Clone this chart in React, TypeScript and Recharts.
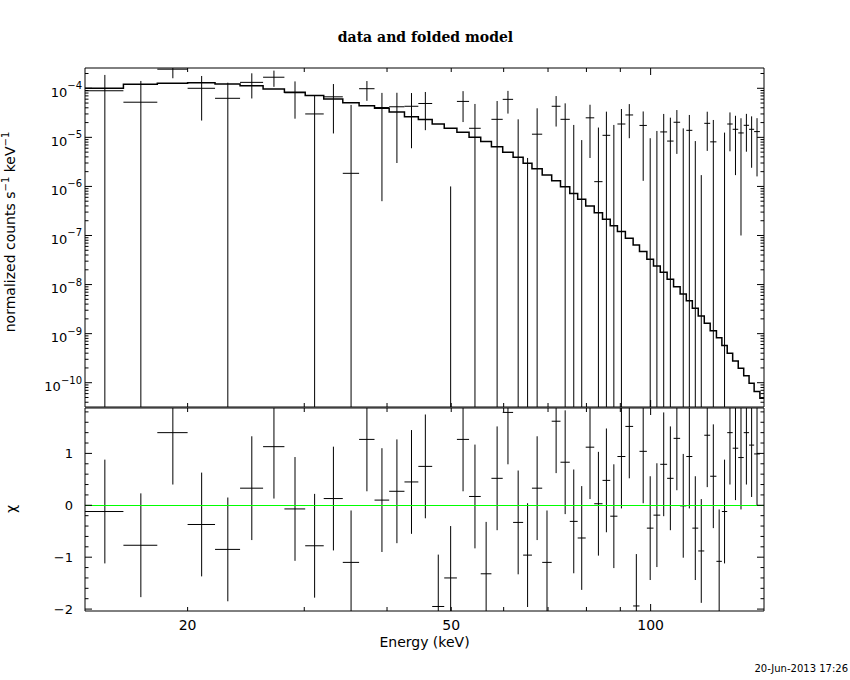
import React from "react";
import { ComposedChart, Line, Scatter, ErrorBar, XAxis, YAxis, ReferenceLine } from "recharts";

// channel edges in keV; the last value closes the final model bin
const binEdges = [
  14.0, 16.0, 18.0, 20.0, 22.0, 24.0, 26.0, 28.0, 30.1, 32.1, 34.3, 36.3, 38.3, 40.3, 42.5, 44.6,
  46.8, 48.8, 51.0, 53.2, 55.4, 57.5, 59.8, 62.0, 64.2, 66.2, 68.6, 70.9, 73.1, 75.5, 77.6, 79.8,
  82.2, 84.6, 86.9, 89.1, 91.6, 94.1, 96.2, 98.7, 101.0, 103.4, 105.9, 108.3, 110.8, 113.2, 115.6,
  118.0, 120.5, 123.0, 125.7, 128.1, 130.5, 133.0, 135.6, 138.2, 140.8, 143.3, 146.2, 148.3,
];

// folded model, counts s^-1 keV^-1
const modelRate = [
  1.0e-4, 1.21e-4, 1.26e-4, 1.3e-4, 1.22e-4, 1.12e-4, 9.7e-5, 8.3e-5, 7.1e-5, 6.05e-5, 5.1e-5,
  4.4e-5, 3.9e-5, 3.3e-5, 2.64e-5, 2.3e-5, 1.87e-5, 1.53e-5, 1.27e-5, 1.0e-5, 8.2e-6, 6.46e-6,
  4.96e-6, 3.93e-6, 2.96e-6, 2.3e-6, 1.71e-6, 1.31e-6, 9.9e-7, 7.2e-7, 5.47e-7, 4.0e-7, 2.92e-7,
  2.14e-7, 1.58e-7, 1.2e-7, 8.8e-8, 6.4e-8, 4.7e-8, 3.3e-8, 2.39e-8, 1.78e-8, 1.28e-8, 9.05e-9,
  6.43e-9, 4.69e-9, 3.29e-9, 2.29e-9, 1.63e-9, 1.15e-9, 8.2e-10, 5.7e-10, 4.0e-10, 2.77e-10,
  1.97e-10, 1.39e-10, 9.7e-11, 6.6e-11, 4.8e-11,
];

// measured rate and 1-sigma error per channel (negative rates have no cross drawn)
const dataRate = [
  8.9e-5, 5.2e-5, 2.45e-4, 1.0e-4, 6.25e-5, 1.32e-4, 1.68e-4, 8.1e-5, 3.0e-5, 6.7e-5, 1.85e-6,
  9.8e-5, 4.05e-5, 4.2e-5, 4.3e-5, 4.9e-5, -4.8e-5, -3.4e-5, 5.4e-5, 1.53e-5, -3.4e-5, 2.33e-5,
  5.95e-5, -5.6e-6, -2.42e-5, 1.16e-5, -2.8e-5, 4.3e-5, 2.33e-5, -7.0e-6, -1.35e-5, 2.5e-5,
  1.25e-6, 1.1e-5, -4.6e-6, 1.87e-5, 2.86e-5, -3.9e-5, 1.75e-5, -7.5e-6, -3.2e-6, 1.29e-5,
  8.4e-6, 2.03e-5, -1.5e-7, 1.39e-5, -6.6e-6, -1.23e-5, 1.93e-5, 8.1e-6, -1.51e-5, -1.7e-6,
  1.87e-5, 1.46e-5, 1.23e-5, 1.76e-5, 1.46e-5, 1.31e-5,
];
const dataErr = [
  9.8e-5, 8.9e-5, 8.5e-5, 7.8e-5, 6.75e-5, 7.0e-5, 6.1e-5, 5.7e-5, 4.2e-5, 5.5e-5, 4.4e-5,
  4.25e-5, 4.0e-5, 3.9e-5, 3.7e-5, 3.5e-5, 3.4e-5, 3.5e-5, 3.35e-5, 3.26e-5, 3.2e-5, 3.17e-5,
  2.9e-5, 2.89e-5, 2.8e-5, 2.75e-5, 2.7e-5, 2.64e-5, 2.6e-5, 2.49e-5, 2.23e-5, 2.12e-5, 1.46e-5,
  2.24e-5, 2.25e-5, 1.91e-5, 1.9e-5, 2.0e-5, 1.62e-5, 1.71e-5, 1.67e-5, 1.71e-5, 1.68e-5,
  1.57e-5, 1.54e-5, 1.47e-5, 1.5e-5, 1.4e-5, 1.4e-5, 1.45e-5, 1.4e-5, 1.42e-5, 1.35e-5, 1.29e-5,
  1.22e-5, 1.25e-5, 1.22e-5, 1.15e-5,
];

// residuals (data - model) / error
const chiValues = [
  -0.12, -0.77, 1.4, -0.37, -0.85, 0.33, 1.13, -0.07, -0.78, 0.13, -1.1, 1.27, 0.1, 0.27, 0.45,
  0.75, -1.95, -1.4, 1.27, 0.17, -1.32, 0.52, 1.79, -0.33, -0.96, 0.33, -1.1, 1.62, 0.83, -0.31,
  -0.63, 1.12, 0.03, 0.48, -0.21, 0.94, 1.52, -1.94, 1.04, -0.44, -0.19, 0.79, 0.52, 1.29, -0.01,
  0.94, -0.44, -0.88, 1.35, 0.56, -1.08, -0.12, 1.4, 1.1, 0.92, 1.4, 1.16, 0.99,
];

const energyTicks = [20, 30, 40, 50, 60, 70, 80, 90, 100];
const energyLabels = ["20", "50", "100"];

const E_MIN = 14;
const E_MAX = 148.3;
const RATE_MIN = 3.2e-11;
const RATE_MAX = 2.59e-4;
const CHI_MIN = -2.037;
const CHI_MAX = 1.875;

const SANS = "'DejaVu Sans', sans-serif";
const AXIS_LINE = { stroke: "#000", strokeWidth: 1 };

const rateTicks: number[] = [];
for (let p = -11; p <= -4; p++) {
  for (let m = 1; m <= 9; m++) {
    const t = m * Math.pow(10, p);
    if (t >= RATE_MIN && t <= RATE_MAX) rateTicks.push(t);
  }
}
const chiTicks: number[] = [];
for (let k = -10; k <= 9; k++) chiTicks.push(Math.round(k * 2) / 10);

const modelLine = modelRate
  .map((v, i) => ({ e: binEdges[i], v }))
  .concat([{ e: binEdges[modelRate.length], v: modelRate[modelRate.length - 1] }]);

const ratePoints = dataRate.flatMap((rate, i) => {
  const lo = binEdges[i];
  const hi = binEdges[i + 1];
  const e = (lo + hi) / 2;
  const upper = Math.min(rate + dataErr[i], RATE_MAX);
  if (upper <= RATE_MIN) return [];
  const shown = rate > RATE_MIN;
  const v = shown ? rate : RATE_MIN;
  const lower = Math.max(rate - dataErr[i], RATE_MIN);
  return [{ e, v, xErr: shown ? [e - lo, hi - e] : [0, 0], yErr: [v - lower, upper - v] }];
});

const chiPoints = chiValues.map((chi, i) => {
  const lo = binEdges[i];
  const hi = binEdges[i + 1];
  const e = (lo + hi) / 2;
  return {
    e,
    v: chi,
    xErr: [e - lo, hi - e],
    yErr: [chi - Math.max(chi - 1, CHI_MIN), Math.min(chi + 1, CHI_MAX) - chi],
  };
});

type Side = "top" | "bottom" | "left" | "right";

function tickRenderer(
  side: Side,
  isMajor: (v: number) => boolean,
  majorLen: number,
  minorLen: number,
  label?: (v: number, x: number, y: number) => React.ReactNode
) {
  return (props: any) => {
    const { x, y, payload } = props;
    const v = payload.value as number;
    const len = isMajor(v) ? majorLen : minorLen;
    const dx = side === "left" ? len : side === "right" ? -len : 0;
    const dy = side === "bottom" ? -len : side === "top" ? len : 0;
    return (
      <g>
        <line x1={x} y1={y} x2={x + dx} y2={y + dy} stroke="#000" strokeWidth={1} />
        {label ? label(v, x, y) : null}
      </g>
    );
  };
}

const isDecade = (v: number) => Math.abs(Math.log10(v) - Math.round(Math.log10(v))) < 1e-6;
const isHundred = (v: number) => v === 100;
const isInteger = (v: number) => Math.abs(v - Math.round(v)) < 1e-6;

const rateLabel = (v: number, x: number, y: number) =>
  isDecade(v) ? (
    <text x={x - 3} y={y + 8.5} textAnchor="end" fontFamily={SANS} fontSize={13} fill="#000">
      10
      <tspan dy={-7.5} fontSize={10}>
        {"\u2212" + Math.abs(Math.round(Math.log10(v)))}
      </tspan>
    </text>
  ) : null;

const chiLabel = (v: number, x: number, y: number) =>
  isInteger(v) ? (
    <text x={x - 12} y={y + 5} textAnchor="end" fontFamily={SANS} fontSize={13} fill="#000">
      {v < 0 ? "\u2212" + Math.abs(Math.round(v)) : String(Math.round(v))}
    </text>
  ) : null;

const energyLabel = (v: number, x: number, y: number) =>
  energyLabels.includes(String(v)) ? (
    <text x={x} y={y + 19} textAnchor="middle" fontFamily={SANS} fontSize={14} fill="#000">
      {String(v)}
    </text>
  ) : null;

const noMarker = () => <g />;

function SpectrumPanel() {
  return (
    <ComposedChart width={850} height={440} margin={{ top: 38, right: 26, bottom: 3, left: 25 }}>
      <XAxis
        dataKey="e"
        type="number"
        scale="log"
        domain={[E_MIN, E_MAX]}
        allowDataOverflow
        ticks={energyTicks}
        interval={0}
        height={30}
        tickSize={0}
        tickMargin={0}
        tickLine={false}
        axisLine={AXIS_LINE}
        tick={tickRenderer("bottom", isHundred, 7, 4)}
      />
      <XAxis
        xAxisId="t"
        orientation="top"
        dataKey="e"
        type="number"
        scale="log"
        domain={[E_MIN, E_MAX]}
        allowDataOverflow
        ticks={energyTicks}
        interval={0}
        height={30}
        tickSize={0}
        tickMargin={0}
        tickLine={false}
        axisLine={AXIS_LINE}
        tick={tickRenderer("top", isHundred, 7, 4)}
      />
      <YAxis
        dataKey="v"
        type="number"
        scale="log"
        domain={[RATE_MIN, RATE_MAX]}
        allowDataOverflow
        ticks={rateTicks}
        interval={0}
        width={60}
        tickSize={0}
        tickMargin={0}
        tickLine={false}
        axisLine={AXIS_LINE}
        tick={tickRenderer("left", isDecade, 7, 3.5, rateLabel)}
      />
      <YAxis
        yAxisId="r"
        orientation="right"
        type="number"
        scale="log"
        domain={[RATE_MIN, RATE_MAX]}
        allowDataOverflow
        ticks={rateTicks}
        interval={0}
        width={60}
        tickSize={0}
        tickMargin={0}
        tickLine={false}
        axisLine={AXIS_LINE}
        tick={tickRenderer("right", isDecade, 7, 3.5)}
      />
      <Line
        data={modelLine}
        dataKey="v"
        type="stepAfter"
        stroke="#000"
        strokeWidth={1.5}
        dot={false}
        activeDot={false}
        isAnimationActive={false}
      />
      <Scatter data={ratePoints} dataKey="v" shape={noMarker} isAnimationActive={false}>
        <ErrorBar dataKey="yErr" direction="y" width={0} stroke="#000" strokeWidth={1} />
        <ErrorBar dataKey="xErr" direction="x" width={0} stroke="#000" strokeWidth={1} />
      </Scatter>
    </ComposedChart>
  );
}

function ResidualPanel() {
  return (
    <ComposedChart width={850} height={680} margin={{ top: 378, right: 26, bottom: 39, left: 25 }}>
      <XAxis
        dataKey="e"
        type="number"
        scale="log"
        domain={[E_MIN, E_MAX]}
        allowDataOverflow
        ticks={energyTicks}
        interval={0}
        height={30}
        tickSize={0}
        tickMargin={0}
        tickLine={false}
        axisLine={AXIS_LINE}
        tick={tickRenderer("bottom", isHundred, 7, 4, energyLabel)}
      />
      <XAxis
        xAxisId="t"
        orientation="top"
        dataKey="e"
        type="number"
        scale="log"
        domain={[E_MIN, E_MAX]}
        allowDataOverflow
        ticks={energyTicks}
        interval={0}
        height={30}
        tickSize={0}
        tickMargin={0}
        tickLine={false}
        axisLine={AXIS_LINE}
        tick={tickRenderer("top", isHundred, 7, 4)}
      />
      <YAxis
        dataKey="v"
        type="number"
        domain={[CHI_MIN, CHI_MAX]}
        allowDataOverflow
        ticks={chiTicks}
        interval={0}
        width={60}
        tickSize={0}
        tickMargin={0}
        tickLine={false}
        axisLine={AXIS_LINE}
        tick={tickRenderer("left", isInteger, 7, 3.5, chiLabel)}
      />
      <YAxis
        yAxisId="r"
        orientation="right"
        type="number"
        domain={[CHI_MIN, CHI_MAX]}
        allowDataOverflow
        ticks={chiTicks}
        interval={0}
        width={60}
        tickSize={0}
        tickMargin={0}
        tickLine={false}
        axisLine={AXIS_LINE}
        tick={tickRenderer("right", isInteger, 7, 3.5)}
      />
      <Scatter data={chiPoints} dataKey="v" shape={noMarker} isAnimationActive={false}>
        <ErrorBar dataKey="yErr" direction="y" width={0} stroke="#000" strokeWidth={1} />
        <ErrorBar dataKey="xErr" direction="x" width={0} stroke="#000" strokeWidth={1} />
      </Scatter>
      <ReferenceLine y={0} stroke="#00ff00" strokeWidth={1} shapeRendering="crispEdges" />
    </ComposedChart>
  );
}

export default function App() {
  return (
    <div style={{ position: "absolute", left: 0, top: 0, width: 850, height: 680, background: "#fff" }}>
      <div style={{ position: "absolute", left: 0, top: 0 }}>
        <SpectrumPanel />
      </div>
      <div style={{ position: "absolute", left: 0, top: 0 }}>
        <ResidualPanel />
      </div>
      <svg
        width={850}
        height={680}
        style={{ position: "absolute", left: 0, top: 0, pointerEvents: "none" }}
      >
        <text
          x={425.5}
          y={42}
          textAnchor="middle"
          fontFamily="'DejaVu Serif', serif"
          fontWeight="bold"
          fontSize={14}
          fill="#000"
        >
          data and folded model
        </text>
        <text
          transform="translate(15,232) rotate(-90)"
          textAnchor="middle"
          fontFamily={SANS}
          fontSize={14}
          fill="#000"
        >
          normalized counts s
          <tspan dy={-6} fontSize={10}>
            {"\u22121"}
          </tspan>
          <tspan dy={6}> keV</tspan>
          <tspan dy={-6} fontSize={10}>
            {"\u22121"}
          </tspan>
        </text>
        <text
          transform="translate(16,509) rotate(-90)"
          textAnchor="middle"
          fontFamily={SANS}
          fontSize={14}
          fill="#000"
        >
          χ
        </text>
        <text x={424.5} y={647} textAnchor="middle" fontFamily={SANS} fontSize={14} fill="#000">
          Energy (keV)
        </text>
        <text x={848} y={672} textAnchor="end" fontFamily={SANS} fontSize={10} fill="#000">
          20-Jun-2013 17:26
        </text>
      </svg>
    </div>
  );
}
